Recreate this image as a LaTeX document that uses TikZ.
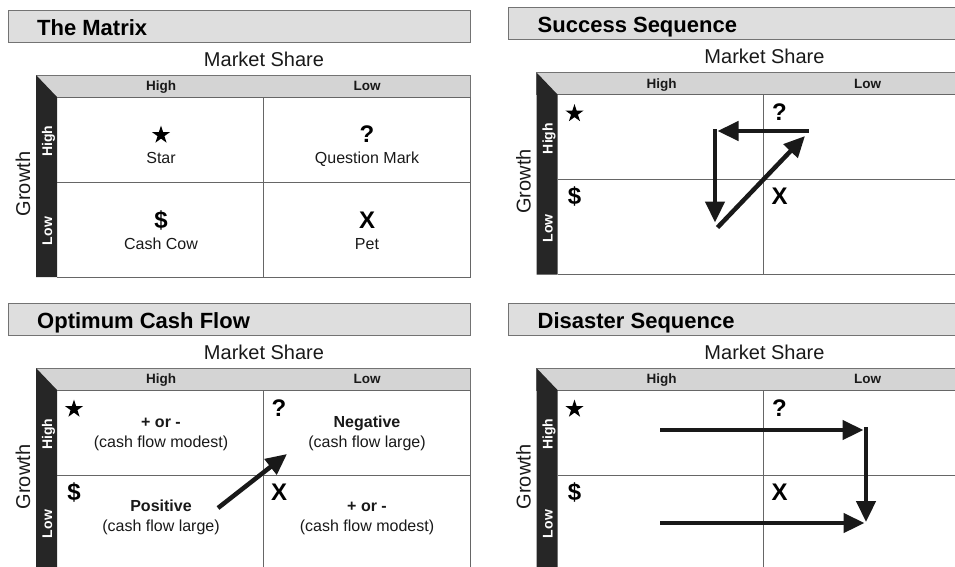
\documentclass[tikz,border=0pt]{standalone}
\usepackage{fontspec}
\setmainfont{Liberation Sans}
\usetikzlibrary{arrows.meta}
\usetikzlibrary{shapes.geometric}

\tikzset{
    titlebar/.style={draw=black!55, fill=black!13, line width=1pt},
    headbar/.style={draw=black!55, fill=black!17, line width=1pt},
    sidebar/.style={fill=black!85},
    gridline/.style={draw=black!60, line width=1pt},
    titletext/.style={font=\bfseries\fontsize{22}{22}\selectfont, text=black, inner sep=0pt},
    axistext/.style={font=\fontsize{20}{20}\selectfont, text=black!90, inner sep=0pt},
    headtext/.style={font=\bfseries\fontsize{13.5}{14}\selectfont, text=black!90, inner sep=0pt, anchor=base},
    bartext/.style={font=\bfseries\fontsize{14}{14}\selectfont, text=white, inner sep=0pt, rotate=90, anchor=base},
    marktext/.style={font=\bfseries\fontsize{24}{24}\selectfont, text=black, inner sep=0pt, anchor=base},
    starmark/.style={star, star points=5, star point ratio=2.618, fill=black, minimum size=19pt, inner sep=0pt},
    celltext/.style={font=\fontsize{16}{16}\selectfont, text=black!90, inner sep=0pt, anchor=base},
    cellbold/.style={celltext, font=\bfseries\fontsize{16}{16}\selectfont},
    bigarrow/.style={draw=black!90, line width=4.5pt, -{Triangle[length=21pt,width=19pt]}},
}

% frame of one growth/share panel: title bar, axis names, header and grid
\newcommand{\matrixframe}[1]{%
    \draw[titlebar] (8,10) rectangle (470,42);
    \node[titletext, anchor=base west] (title) at (37,35) {#1};
    \node[axistext, anchor=base] (share) at (264,66) {Market Share};
    \draw[headbar] (36,75) rectangle (470,97);
    \node[headtext] (colhigh) at (161,90.5) {High};
    \node[headtext] (collow) at (367,90.5) {Low};
    \fill[sidebar] (36,75) -- (57,97) -- (57,277) -- (36,277) -- cycle;
    \node[bartext] (rowhigh) at (52,141) {High};
    \node[bartext] (rowlow) at (52,231) {Low};
    \node[axistext, rotate=90, anchor=base] (growth) at (30,184) {Growth};
    \draw[gridline] (57,97) -- (470,97) -- (470,277) -- (57,277);
    \draw[gridline] (263,97) -- (263,277);
    \draw[gridline] (57,182) -- (470,182);
}

% small signs in the upper left corner of each cell
\newcommand{\cornermarks}{%
    \node[starmark] (star) at (74,116) {};
    \node[marktext] (quest) at (279,123) {?};
    \node[marktext] (dollar) at (74,207) {\$};
    \node[marktext] (dog) at (279,207) {X};
}

\begin{document}
\begin{tikzpicture}[x=1pt, y=-1pt]
\useasboundingbox (0,0) rectangle (955,566);
\clip (0,0) rectangle (955,566);

%The Matrix
\begin{scope}[name prefix=matrix-]
\matrixframe{The Matrix}
\node[starmark] (star) at (161,135) {};
\node[celltext] (starname) at (161,163) {Star};
\node[marktext] (quest) at (367,142) {?};
\node[celltext] (questname) at (367,163) {Question Mark};
\node[marktext] (dollar) at (161,228) {\$};
\node[celltext] (cowname) at (161,249) {Cash Cow};
\node[marktext] (dog) at (367,228) {X};
\node[celltext] (petname) at (367,249) {Pet};
\end{scope}

%Success Sequence
\begin{scope}[shift={(500.5,-2.5)}, name prefix=success-]
\matrixframe{Success Sequence}
\cornermarks
\coordinate (qstart) at (308,133.5);
\coordinate (qend) at (217,133.5);
\coordinate (sstart) at (214.5,131.5);
\coordinate (send) at (214.5,225);
\coordinate (cstart) at (217,230);
\coordinate (cend) at (304.5,138.5);
\draw[bigarrow] (qstart) -- (qend);
\draw[bigarrow] (sstart) -- (send);
\draw[bigarrow] (cstart) -- (cend);
\end{scope}

%Optimum Cash Flow
\begin{scope}[shift={(0,293)}, name prefix=cash-]
\matrixframe{Optimum Cash Flow}
\cornermarks
\node[cellbold] (starsign) at (161,134) {+ or -};
\node[celltext] (starflow) at (161,154) {(cash flow modest)};
\node[cellbold] (questsign) at (367,134) {Negative};
\node[celltext] (questflow) at (367,154) {(cash flow large)};
\node[cellbold] (cowsign) at (161,218) {Positive};
\node[celltext] (cowflow) at (161,238) {(cash flow large)};
\node[cellbold] (dogsign) at (367,218) {+ or -};
\node[celltext] (dogflow) at (367,238) {(cash flow modest)};
\coordinate (flowstart) at (218,215);
\coordinate (flowend) at (287,161);
\draw[bigarrow] (flowstart) -- (flowend);
\end{scope}

%Disaster Sequence
\begin{scope}[shift={(500.5,293)}, name prefix=disaster-]
\matrixframe{Disaster Sequence}
\cornermarks
\coordinate (sstart) at (159.5,137);
\coordinate (send) at (363,137);
\coordinate (qstart) at (365.5,134);
\coordinate (qend) at (365.5,229);
\coordinate (cstart) at (159.5,230);
\coordinate (cend) at (364,230);
\draw[bigarrow] (sstart) -- (send);
\draw[bigarrow] (qstart) -- (qend);
\draw[bigarrow] (cstart) -- (cend);
\end{scope}

\end{tikzpicture}
\end{document}
